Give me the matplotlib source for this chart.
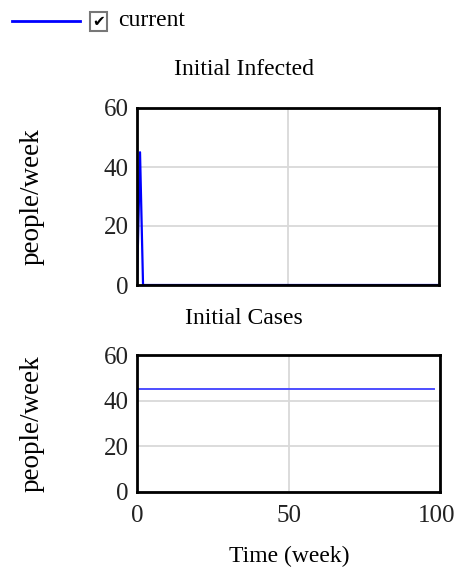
import matplotlib
matplotlib.use("Agg")
import matplotlib.pyplot as plt
import matplotlib.transforms as mtransforms
from matplotlib.lines import Line2D
from matplotlib.patches import Rectangle

# data
weeks = list(range(0, 101))
infected = [0, 45] + [0] * 99
cases = [45] * 101
yticks = [0, 20, 40, 60]
xticks = [0, 50, 100]

plt.rcParams['font.family'] = ['Liberation Serif', 'DejaVu Serif']

W, H = 457, 578
fig = plt.figure(figsize=(W / 100, H / 100), dpi=100)
ax1 = fig.add_axes([137 / W, 1 - 285 / H, 302 / W, 177 / H])
ax2 = fig.add_axes([137 / W, 1 - 492 / H, 303 / W, 137 / H])


def style(ax, title, title_y, show_x):
    ax.set_xlim(0, 100)
    ax.set_ylim(0, 60)
    ax.set_yticks(yticks)
    ax.set_xticks(xticks)
    ax.grid(True, color='#d9d9d9', lw=1.3)
    ax.set_axisbelow(True)
    for s in ax.spines.values():
        s.set_linewidth(2)
        s.set_color('black')
    ax.tick_params(length=0, labelsize=18, pad=6, colors='#222222')
    ax.tick_params(axis='x', pad=9)
    if not show_x:
        ax.tick_params(labelbottom=False)
    ax.text(0.354, title_y, title, transform=ax.transAxes, fontsize=17,
            ha='center', va='center')
    ax.set_ylabel('people/week', fontsize=19.5)
    ax.yaxis.set_label_coords(-0.305, 0.5)


ax1.plot(weeks, infected, color='#0000ff', lw=1.6)
style(ax1, 'Initial Infected', 1.215, False)

ax2.plot(weeks[:99], cases[:99], color='#4d4dff', lw=1.4)
style(ax2, 'Initial Cases', 1.27, True)
# nudge "100" a little so it stays inside the canvas
last = ax2.get_xticklabels()[-1]
last.set_transform(last.get_transform() +
                   mtransforms.ScaledTranslation(-3 / 100, 0, fig.dpi_scale_trans))
fig.text(289 / W, 1 - 556 / H, 'Time (week)', fontsize=17, ha='center', va='center')

# legend row at top
fig.add_artist(Line2D([12 / W, 80 / W], [1 - 21 / H] * 2, color='#0000ff', lw=2))
fig.add_artist(Rectangle((90 / W, 1 - 31 / H), 17 / W, 19 / H, fill=False,
                         edgecolor='#777777', lw=1.5))
fig.text(98.5 / W, 1 - 21.5 / H, '\u2714', fontsize=11, ha='center', va='center',
         family='DejaVu Sans')
fig.text(118 / W, 1 - 21 / H, 'current', fontsize=17, va='center')

fig.savefig('out.png', dpi=100)
